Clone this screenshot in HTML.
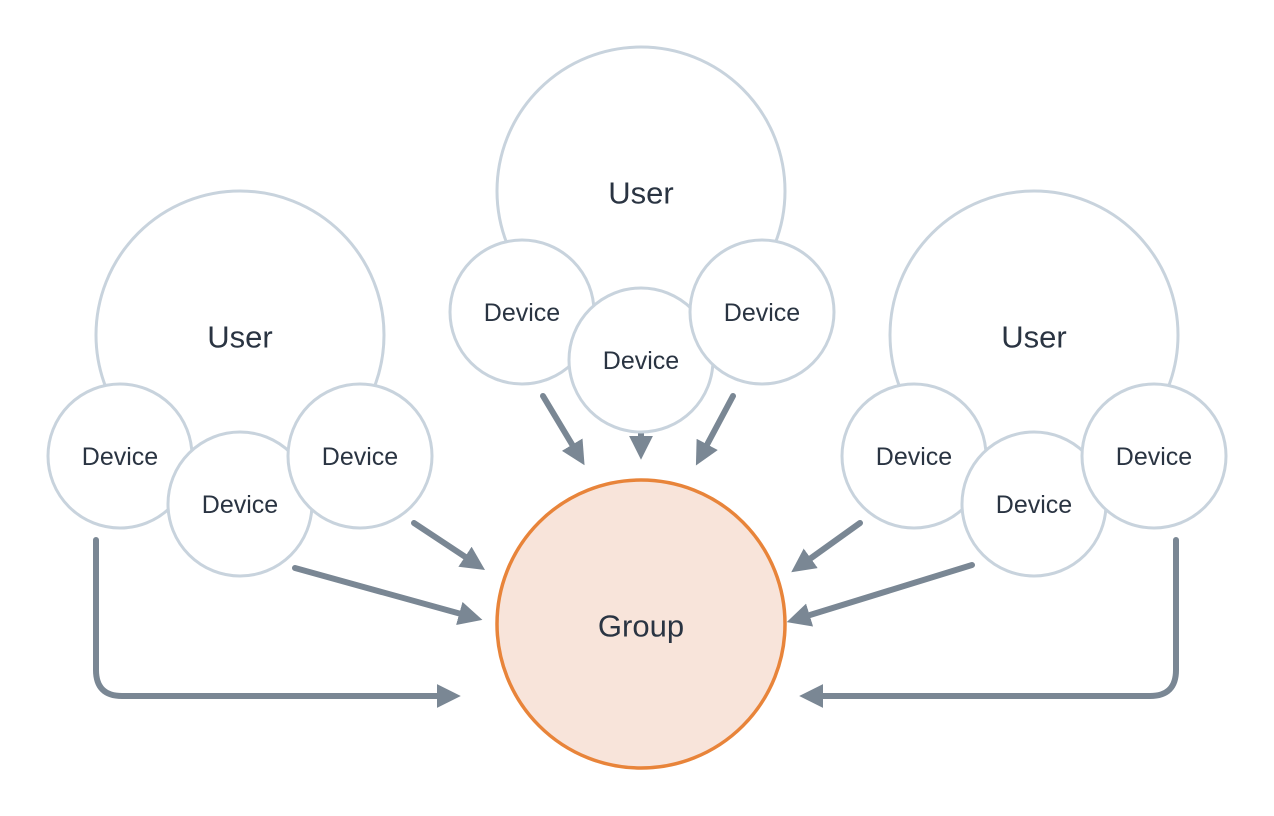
<!DOCTYPE html>
<html><head><meta charset="utf-8"><style>
html,body{margin:0;padding:0;background:#fff;width:1274px;height:816px;overflow:hidden}
text{font-family:"Liberation Sans",sans-serif;fill:#2a3442;text-anchor:middle;dominant-baseline:central}
</style></head><body>
<svg width="1274" height="816" viewBox="0 0 1274 816" xmlns="http://www.w3.org/2000/svg">
<defs>
<marker id="a" markerWidth="4" markerHeight="4" refX="2.2" refY="2" orient="auto" markerUnits="strokeWidth">
<path d="M0,0 L4,2 L0,4 Z" fill="#7a8794"/></marker>
</defs>
<g fill="none" stroke="#7a8794" stroke-width="6" stroke-linecap="round">
<line x1="543" y1="396" x2="579" y2="456" marker-end="url(#a)"/>
<line x1="641" y1="432" x2="641" y2="449" marker-end="url(#a)"/>
<line x1="733" y1="396" x2="701" y2="456" marker-end="url(#a)"/>
<line x1="414" y1="523" x2="476" y2="564" marker-end="url(#a)"/>
<line x1="295" y1="568" x2="472" y2="617" marker-end="url(#a)"/>
<path d="M96,540 V670 Q96,696 122,696 H450" marker-end="url(#a)"/>
<line x1="860" y1="523" x2="800" y2="566" marker-end="url(#a)"/>
<line x1="972" y1="565" x2="797" y2="619" marker-end="url(#a)"/>
<path d="M1176,540 V670 Q1176,696 1150,696 H810" marker-end="url(#a)"/>
</g>
<g fill="#fff" stroke="#c8d3dd" stroke-width="3">
<circle cx="641" cy="191" r="144"/>
<circle cx="240" cy="335" r="144"/>
<circle cx="1034" cy="335" r="144"/>
<circle cx="522" cy="312" r="72"/><circle cx="641" cy="360" r="72"/><circle cx="762" cy="312" r="72"/>
<circle cx="120" cy="456" r="72"/><circle cx="240" cy="504" r="72"/><circle cx="360" cy="456" r="72"/>
<circle cx="914" cy="456" r="72"/><circle cx="1034" cy="504" r="72"/><circle cx="1154" cy="456" r="72"/>
</g>
<circle cx="641" cy="624" r="144" fill="#f8e4da" stroke="#e8843a" stroke-width="3.5"/>
<g font-size="31">
<text x="641" y="193">User</text><text x="240" y="337">User</text><text x="1034" y="337">User</text>
<text x="641" y="626">Group</text>
</g>
<g font-size="25">
<text x="522" y="313">Device</text><text x="641" y="361">Device</text><text x="762" y="313">Device</text>
<text x="120" y="457">Device</text><text x="240" y="505">Device</text><text x="360" y="457">Device</text>
<text x="914" y="457">Device</text><text x="1034" y="505">Device</text><text x="1154" y="457">Device</text>
</g>
</svg>
</body></html>
